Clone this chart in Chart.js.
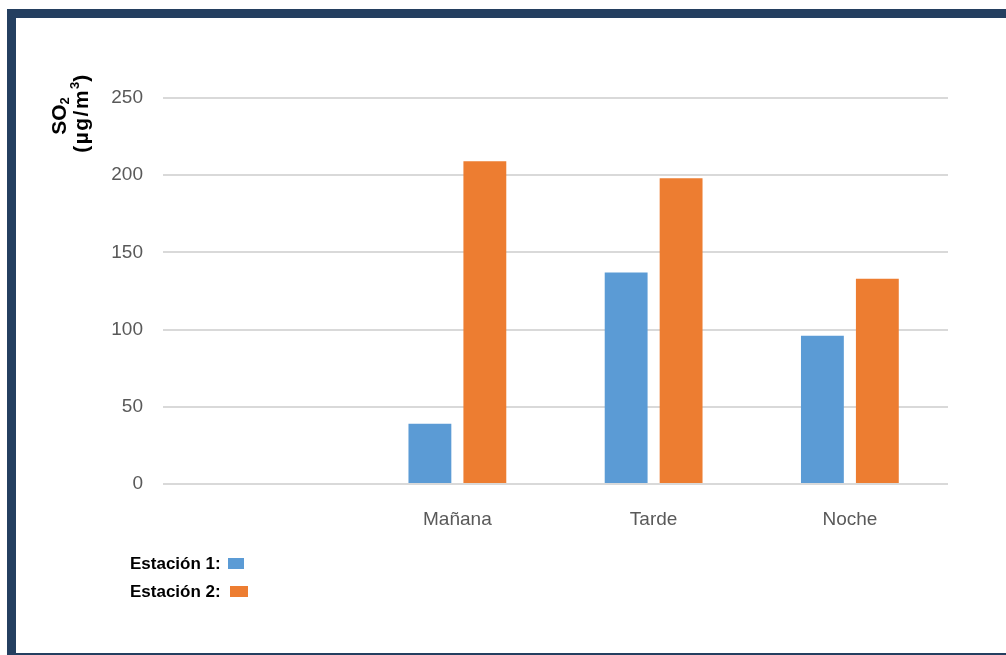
<!DOCTYPE html>
<html>
<head>
<meta charset="utf-8">
<script src="https://cdn.jsdelivr.net/npm/chart.js@4"></script>
<style>
html,body{margin:0;padding:0;background:#fff;width:1006px;height:655px;overflow:hidden;}
#wrap{position:absolute;left:0;top:0;width:1006px;height:655px;}
#frame{position:absolute;left:7px;top:9px;width:1010px;height:635px;border-left:9px solid #243f60;border-top:9px solid #243f60;border-bottom:9px solid #243f60;pointer-events:none;}
</style>
</head>
<body>
<div id="wrap"><canvas id="c" width="1006" height="655"></canvas></div>
<div id="frame"></div>
<script>
const categories = ["", "Mañana", "Tarde", "Noche"];
const station1 = [null, 39, 137, 96];
const station2 = [null, 209, 198, 133];
const seriesNames = ["Estación 1:", "Estación 2:"];
const yTicks = [0, 50, 100, 150, 200, 250];
// title runs: [text, kind] where kind: n = normal, sub = subscript, sup = superscript
const yTitleLine1 = [["SO", "n"], ["2", "sub"]];
const yTitleLine2 = [["(µg/m", "n"], ["3", "sup"], [")", "n"]];

const blue = "#5b9bd5", orange = "#ed7d31";
const FONT = "'Liberation Sans', Arial, sans-serif";

function drawRuns(ctx, runs, cx, cy, size, spacing) {
  const big = "bold " + size + "px " + FONT;
  const small = "bold " + Math.round(size * 0.62) + "px " + FONT;
  const measure = () => {
    let total = 0;
    runs.forEach(([t, k]) => {
      ctx.font = k === "n" ? big : small;
      ctx.letterSpacing = (k === "n" ? spacing : 0) + "px";
      total += ctx.measureText(t).width;
    });
    return total;
  };
  const total = measure();
  ctx.save();
  ctx.translate(cx, cy);
  ctx.rotate(-Math.PI / 2);
  let x = -total / 2;
  ctx.textAlign = "left";
  ctx.textBaseline = "alphabetic";
  const base = size * 0.36;
  runs.forEach(([t, k]) => {
    ctx.font = k === "n" ? big : small;
    ctx.letterSpacing = (k === "n" ? spacing : 0) + "px";
    let dy = 0;
    if (k === "sub") dy = size * 0.18;
    if (k === "sup") dy = -size * 0.4;
    ctx.fillText(t, x, base + dy);
    x += ctx.measureText(t).width;
  });
  ctx.restore();
  ctx.letterSpacing = "0px";
}

const extras = {
  id: "extras",
  afterDraw(chart) {
    const ctx = chart.ctx;
    ctx.save();
    ctx.fillStyle = "#000";
    drawRuns(ctx, yTitleLine1, 58, 116, 21, 0);
    drawRuns(ctx, yTitleLine2, 80, 113, 21, 1.5);
    // legend
    ctx.textAlign = "left";
    ctx.textBaseline = "middle";
    ctx.font = "bold 17px " + FONT;
    const ys = [564, 592];
    const boxX = [228, 230];
    const boxW = [16, 18];
    chart.data.datasets.forEach((ds, i) => {
      ctx.fillStyle = "#000";
      ctx.fillText(seriesNames[i], 130, ys[i]);
      ctx.fillStyle = ds.backgroundColor;
      ctx.fillRect(boxX[i], ys[i] - 6, boxW[i], 11);
    });
    ctx.restore();
  }
};

new Chart(document.getElementById("c"), {
  type: "bar",
  data: {
    labels: categories,
    datasets: [
      { label: seriesNames[0], data: station1, backgroundColor: blue },
      { label: seriesNames[1], data: station2, backgroundColor: orange }
    ]
  },
  options: {
    responsive: false,
    animation: false,
    layout: { padding: { left: 0, right: 58, top: 98, bottom: 0 } },
    plugins: { legend: { display: false }, tooltip: { enabled: false } },
    datasets: { bar: { categoryPercentage: 0.56, barPercentage: 0.78 } },
    scales: {
      x: {
        grid: { display: false },
        border: { display: false },
        ticks: { color: "#595959", font: { family: FONT, size: 19 }, padding: 16, maxRotation: 0 },
        afterFit(s) { s.height = 171; }
      },
      y: {
        min: 0, max: 250,
        afterBuildTicks(s) { s.ticks = yTicks.map(v => ({ value: v })); },
        grid: { color: "#d9d9d9", lineWidth: 2, drawTicks: false },
        border: { display: false },
        ticks: { color: "#595959", font: { family: FONT, size: 19 }, padding: 20 },
        afterFit(s) { s.width = 163; }
      }
    }
  },
  plugins: [extras]
});
</script>
</body>
</html>
